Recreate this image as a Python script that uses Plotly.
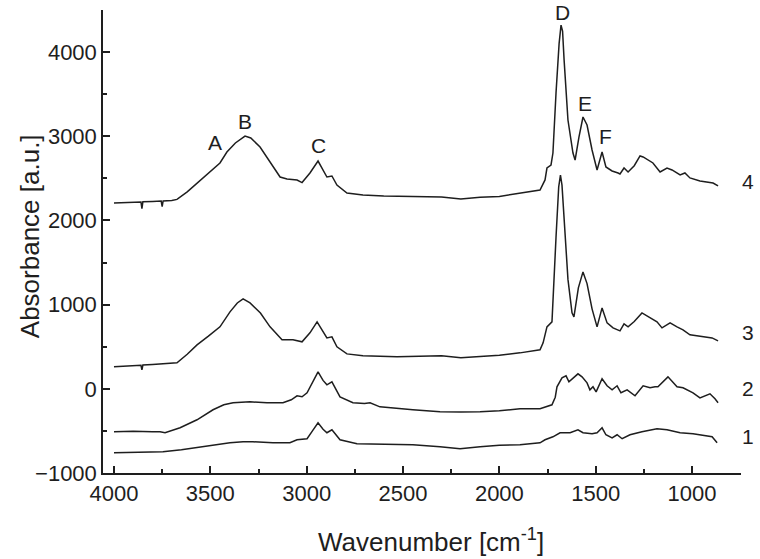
import plotly.graph_objects as go

# spectrum 4 (top)
wn4 = [4000, 3950, 3900, 3860, 3855, 3850, 3800, 3755, 3750, 3745, 3700, 3673, 3620, 3569, 3510,
       3450, 3414, 3370, 3320, 3290, 3242, 3190, 3138, 3102, 3050, 3024, 2983, 2941, 2915, 2895,
       2869, 2843, 2791, 2708, 2600, 2450, 2300, 2200, 2100, 2000, 1893, 1789, 1763, 1753, 1732,
       1722, 1706, 1690, 1680, 1672, 1664, 1644, 1618, 1607, 1587, 1566, 1545, 1519, 1493, 1467,
       1447, 1415, 1384, 1374, 1353, 1332, 1300, 1270, 1254, 1203, 1166, 1130, 1104, 1062, 1037,
       1011, 959, 922, 891, 865]
abs4 = [2208, 2212, 2215, 2220, 2140, 2222, 2225, 2230, 2165, 2232, 2238, 2250, 2340, 2445, 2560,
        2683, 2813, 2920, 3003, 2980, 2873, 2700, 2516, 2493, 2481, 2450, 2564, 2706, 2600, 2516,
        2528, 2421, 2326, 2303, 2290, 2283, 2280, 2255, 2275, 2285, 2327, 2362, 2481, 2623, 2659,
        2801, 3514, 4100, 4321, 4250, 3905, 3193, 2801, 2718, 2991, 3229, 3134, 2837, 2600, 2813,
        2635, 2588, 2564, 2552, 2623, 2576, 2650, 2766, 2754, 2683, 2576, 2623, 2600, 2540, 2564,
        2505, 2469, 2457, 2445, 2410]

# spectrum 3
wn3 = [4000, 3950, 3900, 3860, 3855, 3850, 3800, 3746, 3700, 3673, 3620, 3569, 3510, 3450, 3398,
       3360, 3330, 3294, 3240, 3190, 3128, 3071, 3024, 2983, 2946, 2915, 2895, 2869, 2843, 2791,
       2708, 2531, 2400, 2300, 2200, 2100, 2000, 1893, 1789, 1773, 1753, 1727, 1722, 1706, 1692,
       1683, 1675, 1664, 1644, 1623, 1613, 1590, 1566, 1545, 1519, 1493, 1467, 1441, 1410, 1374,
       1353, 1332, 1300, 1260, 1218, 1182, 1156, 1114, 1078, 1047, 1011, 943, 896, 865]
abs3 = [261, 265, 270, 280, 225, 283, 290, 297, 303, 309, 410, 522, 625, 736, 914,
        1020, 1068, 1021, 900, 736, 582, 582, 558, 665, 795, 680, 605, 617, 499, 415,
        392, 380, 385, 392, 370, 385, 400, 427, 463, 546, 736, 795, 1056, 1800, 2400,
        2540, 2420, 2000, 1300, 902, 855, 1200, 1389, 1250, 950, 736, 961, 783, 724, 688,
        771, 736, 800, 902, 843, 795, 724, 783, 736, 700, 641, 617, 605, 570]

# spectrum 2
wn2 = [4000, 3900, 3800, 3761, 3735, 3700, 3657, 3569, 3486, 3430, 3382, 3294, 3206, 3123, 3080,
       3050, 3024, 2998, 2970, 2941, 2915, 2895, 2869, 2827, 2760, 2700, 2671, 2620, 2449, 2396,
       2308, 2200, 2100, 2000, 1893, 1789, 1763, 1737, 1727, 1710, 1701, 1675, 1654, 1639, 1618,
       1592, 1571, 1545, 1530, 1514, 1498, 1467, 1441, 1415, 1389, 1369, 1337, 1296, 1254, 1218,
       1192, 1177, 1125, 1078, 1047, 995, 959, 907, 881, 865]
abs2 = [-510, -505, -510, -510, -522, -495, -463, -368, -249, -190, -166, -154, -166, -166, -130,
        -83, -95, -47, 80, 202, 100, 47, 83, -95, -166, -175, -166, -214, -249, -261,
        -273, -275, -273, -260, -237, -237, -214, -190, -190, -100, 24, 131, 154, 83, 131,
        178, 142, 71, -12, 24, -36, 119, 36, -12, 36, -47, -12, -83, 36, 12,
        24, 24, 142, 24, 12, -47, -107, -59, -119, -166]

# spectrum 1 (bottom)
wn1 = [4000, 3900, 3800, 3746, 3650, 3569, 3480, 3398, 3330, 3279, 3175, 3087, 3050, 2998, 2970,
       2941, 2915, 2895, 2869, 2827, 2739, 2619, 2449, 2308, 2204, 2100, 2000, 1893, 1789, 1763,
       1722, 1685, 1659, 1633, 1592, 1566, 1519, 1493, 1467, 1447, 1415, 1389, 1363, 1322, 1260,
       1182, 1130, 1062, 995, 922, 896, 870]
abs1 = [-760, -755, -750, -748, -725, -700, -670, -641, -630, -629, -641, -641, -605, -593, -500,
        -404, -480, -522, -487, -605, -653, -655, -665, -688, -712, -688, -670, -665, -641, -605,
        -570, -522, -522, -522, -487, -522, -534, -522, -463, -546, -582, -546, -593, -546, -510,
        -475, -487, -522, -534, -558, -570, -641]

peak_labels = ["A", "B", "C", "D", "E", "F"]
peak_wn = [3476, 3320, 2941, 1670, 1556, 1447]
peak_y = [2932, 3170, 2896, 4475, 3395, 3003]

curve_labels = ["4", "3", "2", "1"]
curve_label_y = [2457, 665, 0, -570]

FONT = "Arial, Liberation Sans, sans-serif"
INK = "#1e1e1e"

fig = go.Figure()
for wn, ab in [(wn4, abs4), (wn3, abs3), (wn2, abs2), (wn1, abs1)]:
    fig.add_trace(go.Scatter(x=wn, y=ab, mode="lines",
                             line=dict(color=INK, width=1.5), showlegend=False))

# peak letters
for lab, xw, yv in zip(peak_labels, peak_wn, peak_y):
    fig.add_annotation(x=xw, y=yv, text=lab, showarrow=False,
                       font=dict(family=FONT, size=21, color=INK))

# curve numbers at the right
for lab, yv in zip(curve_labels, curve_label_y):
    fig.add_annotation(x=1.011, xref="paper", y=yv, yref="y", text=lab, showarrow=False,
                       xanchor="center", yanchor="middle",
                       font=dict(family=FONT, size=21, color=INK))

# axis titles placed as annotations (the y title sits close to the tick labels)
fig.add_annotation(x=-0.114, y=0.512, xref="paper", yref="paper", text="Absorbance [a.u.]",
                   textangle=-90, showarrow=False, xanchor="center", yanchor="middle",
                   font=dict(family=FONT, size=26, color=INK))
fig.add_annotation(x=0.514, y=-0.145, xref="paper", yref="paper", text="Wavenumber [cm<sup>-1</sup>]",
                   showarrow=False, xanchor="center", yanchor="middle",
                   font=dict(family=FONT, size=26, color=INK))

axis_common = dict(showline=True, linecolor=INK, linewidth=1.5, showgrid=False, zeroline=False,
                   ticks="inside", ticklen=7, tickwidth=1.5, tickcolor=INK,
                   tickfont=dict(family=FONT, size=22, color=INK),
                   minor=dict(ticks="inside", ticklen=4, tickwidth=1.5, tickcolor=INK))

fig.update_xaxes(**axis_common, range=[4057, 746], tickvals=[4000, 3500, 3000, 2500, 2000, 1500, 1000],
                 minor_dtick=250)
fig.update_yaxes(**axis_common, range=[-1000, 4500], dtick=1000, minor_dtick=500)

fig.update_layout(width=760, height=559, plot_bgcolor="white", paper_bgcolor="white",
                  margin=dict(l=103, r=19, t=10, b=86, autoexpand=False))

# drop the default 8px page margin so the figure fills the window exactly
fig.write_html("out.html", config={"displayModeBar": False},
               post_script="document.body.style.margin='0';")
